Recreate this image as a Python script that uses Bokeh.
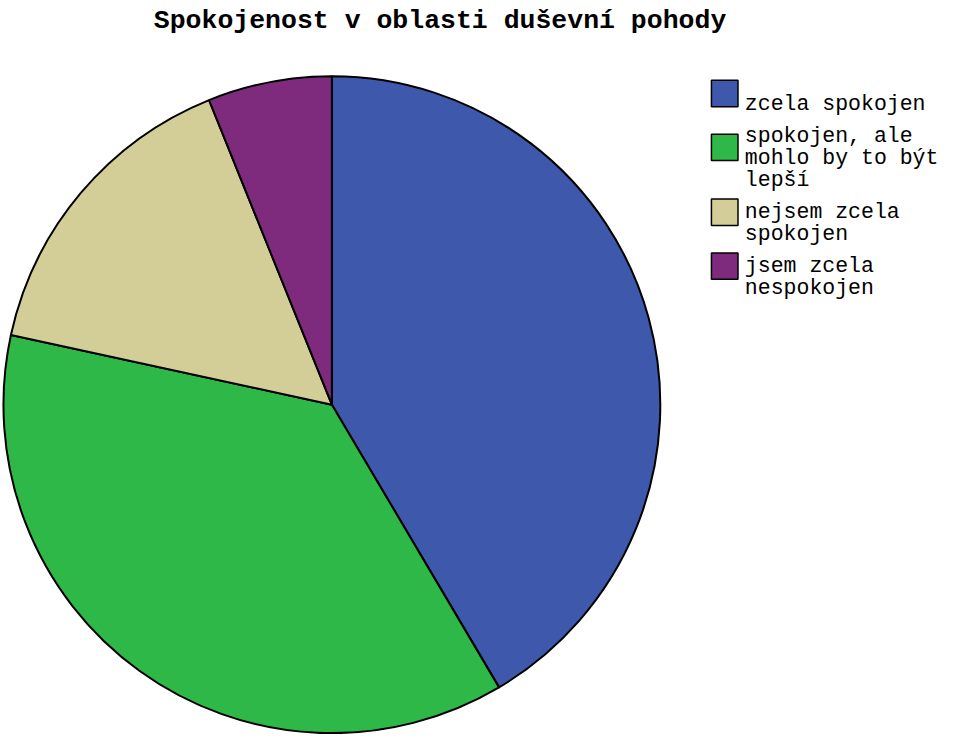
import numpy as np
from bokeh.plotting import figure
from bokeh.models import Range1d, ColumnDataSource
from bokeh.core.properties import value
from bokeh.embed import file_html
from bokeh.resources import INLINE

title_text = "Spokojenost v oblasti duševní pohody"
categories = [
    "zcela spokojen",
    "spokojen, ale\nmohlo by to být\nlepší",
    "nejsem zcela\nspokojen",
    "jsem zcela\nnespokojen",
]
shares = [41.5, 36.9, 15.5, 6.1]
colors = ["#3E58AC", "#2EB848", "#D3CE97", "#7E2A7D"]

W, H = 943, 734
REF_W, REF_H = 959, 750
p = figure(width=W, height=H, output_backend="svg", toolbar_location=None,
           x_range=Range1d(0, REF_W), y_range=Range1d(0, REF_H),
           x_axis_type=None, y_axis_type=None, min_border=0,
           outline_line_color=None, background_fill_color="white",
           border_fill_color="white")
p.xgrid.visible = False
p.ygrid.visible = False

def sy(v):
    return REF_H - v

# pie
vals = np.array(shares, dtype=float)
frac = vals / vals.sum()
ends = np.cumsum(frac)
starts = ends - frac
src = ColumnDataSource(dict(
    start=np.pi / 2 - 2 * np.pi * starts,
    end=np.pi / 2 - 2 * np.pi * ends,
    color=colors,
))
cx, cy, r = 337, sy(413), 334
p.wedge(x=cx, y=cy, radius=r, start_angle="start", end_angle="end",
        direction="clock", fill_color="color", line_color="black",
        line_width=2, source=src)

# title
p.text(x=[447], y=[sy(21)], text=[title_text], text_font=value("Liberation Mono"),
       text_font_style="bold", text_font_size="26.5px", text_align="center",
       text_baseline="alphabetic", text_color="black")

# legend
lh, gap = 22.3, 10.5
y = 106.0
tx, sw_x, sw = 757, 736.5, 27
txt_x, txt_y, txt = [], [], []
sx_, sy_, sc_ = [], [], []
for cat, col in zip(categories, colors):
    lines = cat.split("\n")
    bl = [y + i * lh for i in range(len(lines))]
    for b, ln in zip(bl, lines):
        txt_x.append(tx); txt_y.append(sy(b)); txt.append(ln)
    sx_.append(sw_x); sy_.append(sy(sum(bl) / len(bl) - 11)); sc_.append(col)
    y = bl[-1] + lh + gap

p.rect(x=sx_, y=sy_, width=sw, height=sw, fill_color=sc_, line_color="black", line_width=1.5)
p.text(x=txt_x, y=txt_y, text=txt, text_font=value("Liberation Mono"),
       text_font_size="21.5px", text_align="left", text_baseline="alphabetic",
       text_color="black")

open("out.html", "w").write(file_html(p, INLINE))
